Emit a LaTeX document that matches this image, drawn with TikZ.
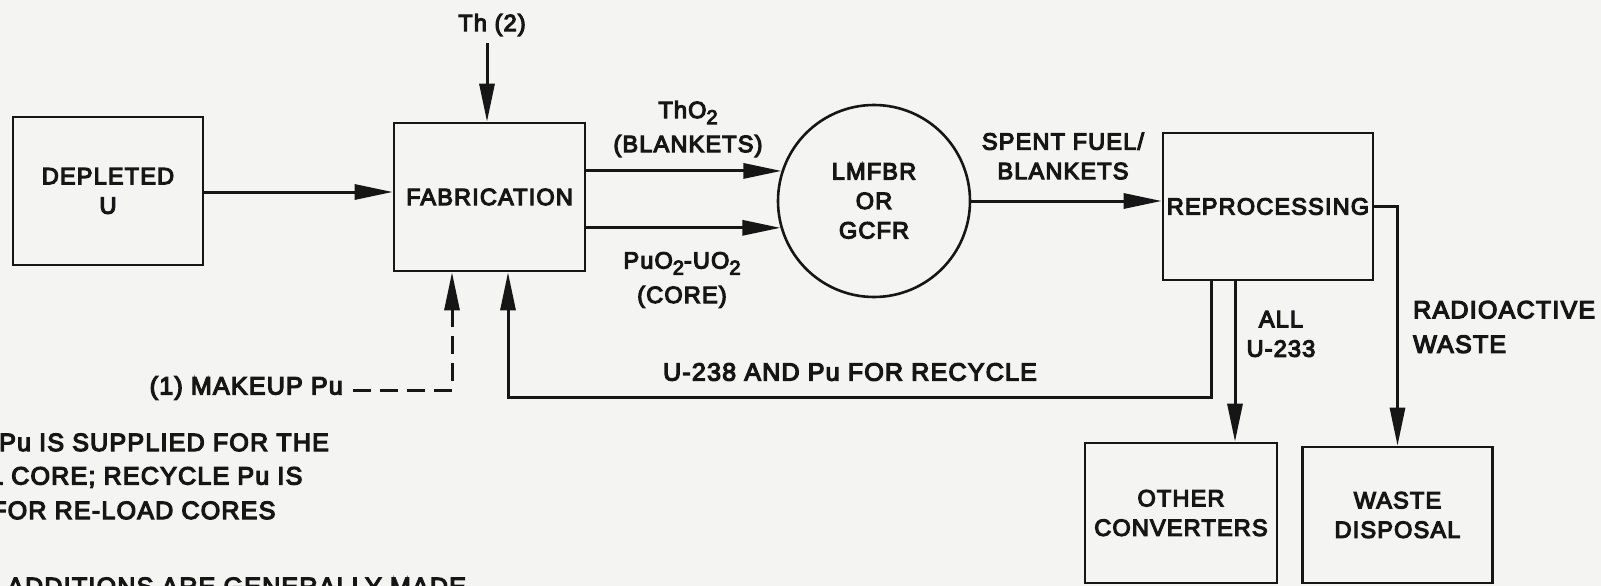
\documentclass[tikz,border=0pt]{standalone}
\usepackage{fontspec}
\setmainfont{Liberation Sans}[LetterSpace=5,FakeBold=5]
\usetikzlibrary{arrows.meta}
\definecolor{bg}{RGB}{244,244,242}
\definecolor{ink}{RGB}{22,22,22}
\newcommand\subtwo{\raisebox{-6pt}{\fontsize{20}{20}\selectfont 2}}
\begin{document}
\begin{tikzpicture}[x=1pt,y=-1pt,
  font=\fontsize{23.5}{29.5}\selectfont,
  box/.style={draw=ink, line width=2.6pt, inner sep=0pt, align=center, text=ink},
  lbl/.style={inner sep=0pt, align=center, text=ink},
  big/.style={font=\fontsize{25}{29.5}\selectfont},
  flow/.style={draw=ink, line width=3pt, -{Triangle[length=38pt,width=15pt]}},
  dashflow/.style={flow, dash pattern=on 18pt off 9pt}]
\fill[bg] (0,0) rectangle (1601,586);
\useasboundingbox (0,0) rectangle (1601,586);
\clip (0,0) rectangle (1601,586);

% boxes
\node[box, minimum width=190pt, minimum height=148pt] (dep) at (108,191) {DEPLETED\\U};
\node[box, minimum width=191pt, minimum height=148pt] (fab) at (489.5,197) {FABRICATION};
\node[box, circle, minimum size=192pt] (re) at (874,201) {LMFBR\\OR\\GCFR};
\node[box, minimum width=210pt, minimum height=147pt] (rep) at (1268,206.5) {REPROCESSING};
\node[box, minimum width=192pt, minimum height=140pt] (oc) at (1181,513) {OTHER\\CONVERTERS};
\node[box, minimum width=190pt, minimum height=136pt] (wd) at (1397.5,515) {WASTE\\DISPOSAL};

% helper coordinates
\coordinate (y192) at (0,192);
\coordinate (thtop) at (487,43);
\coordinate (a1) at (1235,0);
\coordinate (r1) at (1211,397);
\coordinate (r2) at (508,397);
\coordinate (d1) at (452,390);

% labels
\node[lbl] (th) at (492,25) {Th (2)};
\node[lbl] (lt) at (688,129) {ThO\subtwo\\[4.5pt](BLANKETS)};
\node[lbl] (lp) at (682,280) {PuO\subtwo-UO\subtwo\\[5pt](CORE)};
\node[lbl] (ls) at (1063,156) {SPENT FUEL/\\BLANKETS};
\node[lbl, big] (lu) at (850,372) {U-238 AND Pu FOR RECYCLE};
\node[lbl] (la) at (1281,334) {ALL\\U-233};
\node[lbl, big, anchor=west, align=left] (lr) at (1413,327) {RADIOACTIVE\\[5pt]WASTE};
\node[lbl, big, anchor=east] (mk) at (343,388) {(1) MAKEUP Pu};
\coordinate (d0) at (353,390);

% notes (cut by the frame, as in the reference)
\node[lbl, big, anchor=base west] (n1) at (-1,451) {Pu IS SUPPLIED FOR THE};
\node[lbl, big, anchor=base west] (n2) at (-11,484.5) {L CORE; RECYCLE Pu IS};
\node[lbl, big, anchor=base west] (n3) at (-9,519) {FOR RE-LOAD CORES};
\node[lbl, big, anchor=base west] (n4) at (7,595) {ADDITIONS ARE GENERALLY MADE};

% connectors
\draw[flow] (thtop) -- (thtop |- fab.north);
\draw[flow] (dep.east |- y192) -- (fab.west |- y192);
\draw[flow] (fab.east |- re.162.4) -- (re.162.4);
\draw[flow] (fab.east |- re.196.3) -- (re.196.3);
\draw[flow] (re.east) -- (rep.west |- re.east);
\draw[flow] (rep.east) -| (wd.north);
\draw[flow] (rep.south -| a1) -- (oc.north -| a1);
\draw[flow] (rep.south -| r1) -- (r1) -- (r2) -- (fab.south -| r2);
\draw[dashflow] (d0) -- (d1) -- (fab.south -| d1);
\end{tikzpicture}
\end{document}
